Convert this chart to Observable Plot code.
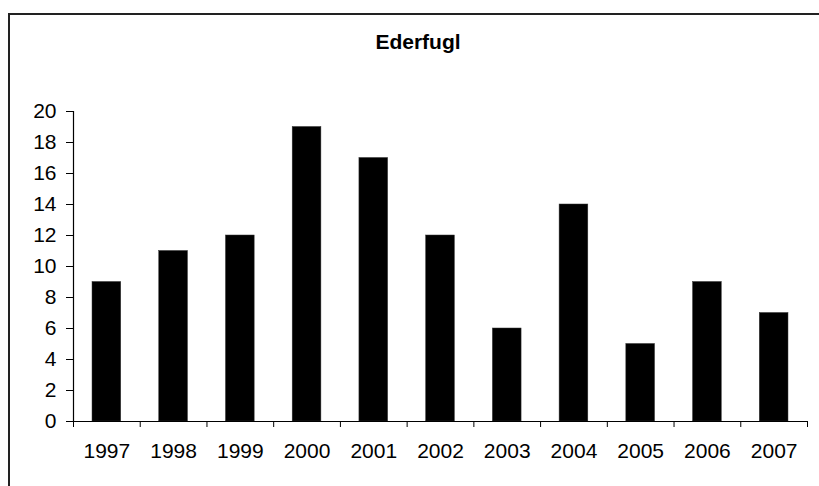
<!DOCTYPE html>
<html>
<head>
<meta charset="utf-8">
<script src="https://cdn.jsdelivr.net/npm/d3@7"></script>
<script src="https://cdn.jsdelivr.net/npm/@observablehq/plot@0.6"></script>
<style>
  html, body { margin: 0; padding: 0; background: #fff; }
  #wrap { position: relative; width: 819px; height: 486px; overflow: hidden; font-family: "Liberation Sans", Arial, sans-serif; }
  #border { position: absolute; left: 8px; top: 13px; width: 900px; height: 600px; border: 2px solid #222; box-sizing: border-box; }
  #title { position: absolute; left: 0; width: 836px; top: 31px; text-align: center; font-weight: bold; font-size: 21px; line-height: 21px; color: #000; }
  #chart { position: absolute; left: 0; top: 0; }
</style>
</head>
<body>
<div id="wrap">
  <div id="border"></div>
  <div id="chart"></div>
  <div id="title">Ederfugl</div>
</div>
<script>
const title = "Ederfugl";
const years = ["1997","1998","1999","2000","2001","2002","2003","2004","2005","2006","2007"];
const counts = [9, 11, 12, 19, 17, 12, 6, 14, 5, 9, 7];
const yTicks = [0, 2, 4, 6, 8, 10, 12, 14, 16, 18, 20];

const data = years.map((y, i) => ({year: y, count: counts[i]}));

const W = 819, H = 486, mL = 73, mR = 12, mT = 111, mB = 65;
const step = (W - mL - mR) / years.length;
const gap = 0.57;

const plot = Plot.plot({
  width: W,
  height: H,
  marginLeft: mL,
  marginRight: mR,
  marginTop: mT,
  marginBottom: mB,
  style: {fontFamily: "'Liberation Sans', Arial, sans-serif", fontSize: "21px", color: "#000", background: "transparent", overflow: "visible"},
  x: {type: "band", domain: years, paddingInner: gap, paddingOuter: gap / 2, round: false, label: null},
  y: {domain: [0, 20], label: null},
  marks: [
    Plot.barY(data, {x: "year", y: "count", fill: "#000", stroke: "#333", strokeWidth: 0.5}),
    Plot.ruleY([0], {stroke: "#000", strokeWidth: 1.2}),
    Plot.frame({anchor: "left", stroke: "#000", strokeWidth: 1.2}),
    Plot.axisY({ticks: yTicks, tickSize: 7, tickPadding: 10, stroke: "#000", fill: "#000", label: null}),
    Plot.axisX({ticks: years, tickSize: 0, tickPadding: 22, fill: "#000", label: null}),
    Plot.axisX({ticks: years, tickSize: 6, tickFormat: () => "", dx: -step / 2, stroke: "#000", label: null}),
    Plot.axisX({ticks: [years[years.length - 1]], tickSize: 6, tickFormat: () => "", dx: step / 2, stroke: "#000", label: null})
  ]
});
document.getElementById("chart").appendChild(plot);
</script>
</body>
</html>
